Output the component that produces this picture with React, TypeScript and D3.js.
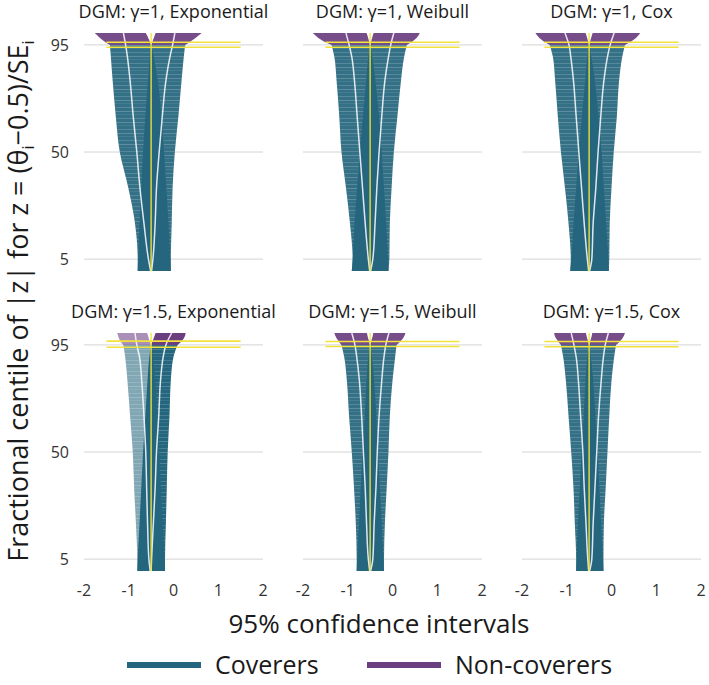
import React from 'react';
import * as d3 from 'd3';

// ---------- data ----------
const panelTitles = [
  'DGM: γ=1, Exponential',
  'DGM: γ=1, Weibull',
  'DGM: γ=1, Cox',
  'DGM: γ=1.5, Exponential',
  'DGM: γ=1.5, Weibull',
  'DGM: γ=1.5, Cox',
];
const trueValue = -0.5;
const xTicks = [-2, -1, 0, 1, 2];
const yTicks = [5, 50, 95];
const legendLabels = ['Coverers', 'Non-coverers'];

// fractional centiles at which the interval envelopes were read
const centilesCover = [0, 5, 20, 35, 50, 65, 80, 90, 95];
const centilesNon = [95, 97, 99, 100];
const centilesEst = [0, 5, 20, 35, 50, 65, 80, 90, 95, 100];

// share of replicates whose estimate is below the true value
const shareBelow = [0.5, 0.5, 0.5, 0.3, 0.5, 0.5];

// coverers: outer lower limit, outer upper limit
const coverLeftEdge = [
  [-0.80, -0.80, -0.86, -1.01, -1.20, -1.29, -1.36, -1.40, -1.42],
  [-0.91, -0.89, -0.95, -1.04, -1.14, -1.19, -1.25, -1.30, -1.36],
  [-0.92, -0.91, -0.96, -1.04, -1.13, -1.20, -1.26, -1.31, -1.38],
  [-0.81, -0.81, -0.84, -0.88, -0.91, -0.97, -1.03, -1.08, -1.12],
  [-0.80, -0.80, -0.82, -0.86, -0.91, -0.97, -1.02, -1.08, -1.14],
  [-0.79, -0.79, -0.82, -0.85, -0.90, -0.96, -1.02, -1.08, -1.13],
];
const coverRightEdge = [
  [-0.06, -0.06, -0.04, -0.02, 0.03, 0.11, 0.18, 0.23, 0.26],
  [-0.09, -0.07, -0.06, -0.02, 0.03, 0.11, 0.19, 0.26, 0.32],
  [-0.06, -0.05, -0.04, 0.0, 0.05, 0.12, 0.17, 0.24, 0.30],
  [-0.19, -0.19, -0.17, -0.15, -0.13, -0.09, -0.06, 0.0, 0.09],
  [-0.19, -0.19, -0.17, -0.13, -0.09, -0.06, 0.0, 0.06, 0.09],
  [-0.18, -0.18, -0.17, -0.13, -0.09, -0.05, 0.0, 0.06, 0.10],
];
// upper limit of intervals whose estimate is below truth
const leftRowsUpper = [
  [-0.06, -0.07, -0.11, -0.16, -0.21, -0.27, -0.35, -0.44, -0.50],
  [-0.09, -0.10, -0.14, -0.19, -0.24, -0.30, -0.38, -0.45, -0.50],
  [-0.06, -0.07, -0.12, -0.17, -0.22, -0.29, -0.37, -0.45, -0.50],
  [-0.19, -0.20, -0.24, -0.28, -0.32, -0.36, -0.41, -0.46, -0.50],
  [-0.19, -0.20, -0.24, -0.28, -0.32, -0.36, -0.41, -0.46, -0.50],
  [-0.18, -0.19, -0.23, -0.27, -0.31, -0.36, -0.41, -0.46, -0.50],
];
// lower limit of intervals whose estimate is above truth
const rightRowsLower = [
  [-0.80, -0.79, -0.76, -0.72, -0.68, -0.63, -0.57, -0.53, -0.50],
  [-0.91, -0.89, -0.85, -0.79, -0.73, -0.66, -0.59, -0.54, -0.50],
  [-0.92, -0.90, -0.85, -0.79, -0.73, -0.66, -0.59, -0.54, -0.50],
  [-0.81, -0.80, -0.76, -0.72, -0.68, -0.63, -0.58, -0.54, -0.50],
  [-0.80, -0.79, -0.75, -0.71, -0.67, -0.62, -0.58, -0.54, -0.50],
  [-0.79, -0.78, -0.75, -0.71, -0.67, -0.62, -0.58, -0.54, -0.50],
];
// point estimates (below / above truth)
const estBelow = [
  [-0.51, -0.56, -0.66, -0.75, -0.82, -0.90, -0.97, -1.03, -1.07, -1.12],
  [-0.51, -0.54, -0.61, -0.67, -0.73, -0.79, -0.85, -0.91, -0.97, -1.04],
  [-0.51, -0.54, -0.61, -0.67, -0.73, -0.79, -0.85, -0.91, -0.95, -1.04],
  [-0.52, -0.55, -0.58, -0.60, -0.62, -0.66, -0.71, -0.76, -0.82, -0.86],
  [-0.51, -0.54, -0.58, -0.61, -0.65, -0.69, -0.74, -0.80, -0.84, -0.91],
  [-0.51, -0.53, -0.57, -0.61, -0.64, -0.69, -0.74, -0.79, -0.84, -0.90],
];
const estAbove = [
  [-0.49, -0.46, -0.41, -0.38, -0.32, -0.25, -0.17, -0.08, -0.02, 0.03],
  [-0.49, -0.44, -0.39, -0.35, -0.30, -0.24, -0.17, -0.09, -0.04, 0.03],
  [-0.49, -0.44, -0.41, -0.35, -0.30, -0.24, -0.17, -0.09, -0.03, 0.06],
  [-0.50, -0.49, -0.45, -0.41, -0.38, -0.33, -0.29, -0.23, -0.17, -0.04],
  [-0.49, -0.44, -0.41, -0.37, -0.34, -0.30, -0.24, -0.19, -0.15, -0.08],
  [-0.49, -0.44, -0.41, -0.37, -0.33, -0.29, -0.23, -0.18, -0.14, -0.07],
];
// non-coverers
const nonLeftOuter = [
  [-1.42, -1.58, -1.70, -1.76],
  [-1.36, -1.58, -1.72, -1.78],
  [-1.38, -1.55, -1.66, -1.70],
  [-1.12, -1.20, -1.24, -1.26],
  [-1.14, -1.22, -1.28, -1.30],
  [-1.13, -1.21, -1.27, -1.28],
];
const nonLeftInner = [
  [-0.50, -0.54, -0.59, -0.62],
  [-0.50, -0.53, -0.56, -0.58],
  [-0.50, -0.53, -0.56, -0.58],
  [-0.50, -0.54, -0.57, -0.59],
  [-0.50, -0.53, -0.56, -0.57],
  [-0.50, -0.53, -0.56, -0.57],
];
const nonRightInner = [
  [-0.50, -0.46, -0.42, -0.40],
  [-0.50, -0.47, -0.44, -0.42],
  [-0.50, -0.47, -0.44, -0.42],
  [-0.50, -0.46, -0.42, -0.40],
  [-0.50, -0.47, -0.44, -0.43],
  [-0.50, -0.47, -0.44, -0.43],
];
const nonRightOuter = [
  [0.26, 0.42, 0.56, 0.63],
  [0.32, 0.48, 0.58, 0.61],
  [0.30, 0.48, 0.60, 0.64],
  [0.09, 0.20, 0.26, 0.27],
  [0.09, 0.20, 0.27, 0.29],
  [0.10, 0.21, 0.28, 0.30],
];
// Monte Carlo interval for coverage (percent)
const coverageLower = [94.0, 94.0, 94.0, 94.0, 94.3, 94.2];
const coverageUpper = [96.1, 96.1, 96.1, 96.6, 96.4, 96.4];
const mcLineRange = [-1.5, 1.5];

// ---------- style ----------
const TEAL = '#24667d';
const PURPLE = '#6b3e80';
const YELLOW = '#f3e23c';
const FONT = "'Open Sans', 'Noto Sans', sans-serif";

const W = 709;
const H = 685;
const panelLeft = 84;
const panelW = 179;
const panelGap = 40;
const rowTop = [33, 333];
const panelH = 238;

const wingOpacity = (s: number) => Math.max(0.2, Math.min(1, 1.75 * s + 0.05));

function Panel({ idx }: { idx: number }) {
  const col = idx % 3;
  const row = Math.floor(idx / 3);
  const x0 = panelLeft + col * (panelW + panelGap);
  const x = d3.scaleLinear().domain([-2, 2]).range([x0, x0 + panelW]);
  const y = d3.scaleLinear().domain([0, 100]).range([rowTop[row] + panelH, rowTop[row]]);

  const share = shareBelow[idx];
  const opLeft = wingOpacity(share);
  const opRight = wingOpacity(1 - share);

  const band = (lo: number[], hi: number[], cs: number[]) =>
    d3
      .area<number>()
      .y((_, i) => y(cs[i]))
      .x0((_, i) => x(lo[i]))
      .x1((_, i) => x(hi[i]))
      .curve(d3.curveMonotoneY)(cs)!;
  const line = (vals: number[], cs: number[]) =>
    d3
      .line<number>()
      .y((_, i) => y(cs[i]))
      .x((_, i) => x(vals[i]))
      .curve(d3.curveMonotoneY)(cs)!;

  return (
    <g>
      {yTicks.map((t) => (
        <line key={t} x1={x(-2)} x2={x(2)} y1={y(t)} y2={y(t)} stroke="#d4d4d4" strokeWidth={1} />
      ))}
      <path d={band(coverLeftEdge[idx], leftRowsUpper[idx], centilesCover)} fill={TEAL} fillOpacity={opLeft} />
      <path d={band(rightRowsLower[idx], coverRightEdge[idx], centilesCover)} fill={TEAL} fillOpacity={opRight} />
      {/* texture where only one side of intervals reaches */}
      <path d={band(coverLeftEdge[idx], rightRowsLower[idx], centilesCover)} fill="url(#stripes)" />
      <path d={band(leftRowsUpper[idx], coverRightEdge[idx], centilesCover)} fill="url(#stripes)" />
      <path d={band(nonLeftOuter[idx], nonLeftInner[idx], centilesNon)} fill={PURPLE} fillOpacity={opLeft} />
      <path d={band(nonRightInner[idx], nonRightOuter[idx], centilesNon)} fill={PURPLE} fillOpacity={opRight} />
      <path d={line(estBelow[idx], centilesEst)} fill="none" stroke="#ffffff" strokeOpacity={0.85} strokeWidth={1.5} />
      <path d={line(estAbove[idx], centilesEst)} fill="none" stroke="#ffffff" strokeOpacity={0.85} strokeWidth={1.5} />
      <line x1={x(trueValue)} x2={x(trueValue)} y1={y(0)} y2={y(100)} stroke={YELLOW} strokeOpacity={0.9} strokeWidth={1.5} />
      {[coverageLower[idx], coverageUpper[idx]].map((c, i) => (
        <line key={i} x1={x(mcLineRange[0])} x2={x(mcLineRange[1])} y1={y(c)} y2={y(c)} stroke={YELLOW} strokeWidth={1.6} />
      ))}
      <text x={(x(-2) + x(2)) / 2} y={rowTop[row] - 15} textAnchor="middle" fontSize={18} fill="#1a1a1a">
        {panelTitles[idx]}
      </text>
      {col === 0 &&
        yTicks.map((t) => (
          <text key={t} x={69} y={y(t)} dy="0.36em" textAnchor="end" fontSize={16} fill="#333">
            {t}
          </text>
        ))}
      {row === 1 &&
        xTicks.map((t) => (
          <text key={t} x={x(t)} y={596} textAnchor="middle" fontSize={16} fill="#333">
            {t}
          </text>
        ))}
    </g>
  );
}

export default function App() {
  return (
    <svg
      width={W}
      height={H}
      style={{ position: 'absolute', left: 0, top: 0, background: '#fff' }}
      fontFamily={FONT}
    >
      <defs>
        <pattern id="stripes" width={8} height={11} patternUnits="userSpaceOnUse">
          <rect x={0} y={1} width={8} height={1} fill="#ffffff" fillOpacity={0.2} />
          <rect x={0} y={4} width={8} height={1} fill="#ffffff" fillOpacity={0.08} />
          <rect x={0} y={8} width={8} height={1} fill="#ffffff" fillOpacity={0.16} />
        </pattern>
      </defs>
      <rect width={W} height={H} fill="#fff" />
      {panelTitles.map((_, i) => (
        <Panel key={i} idx={i} />
      ))}
      <text transform="translate(28,301) rotate(-90)" textAnchor="middle" fontSize={27} fill="#1a1a1a">
        Fractional centile of |z| for z = (θ
        <tspan fontSize={16} dy={6}>i</tspan>
        <tspan dy={-6}>−0.5)/SE</tspan>
        <tspan fontSize={16} dy={6}>i</tspan>
      </text>
      <text x={379} y={633} textAnchor="middle" fontSize={26} fill="#1a1a1a">
        95% confidence intervals
      </text>
      {legendLabels.map((lab, i) => {
        const lx = i === 0 ? 127 : 367;
        return (
          <g key={lab}>
            <line x1={lx} x2={lx + 74} y1={665} y2={665} stroke={i === 0 ? TEAL : PURPLE} strokeWidth={6} />
            <text x={lx + 88} y={674} fontSize={25} fill="#1a1a1a">
              {lab}
            </text>
          </g>
        );
      })}
    </svg>
  );
}
